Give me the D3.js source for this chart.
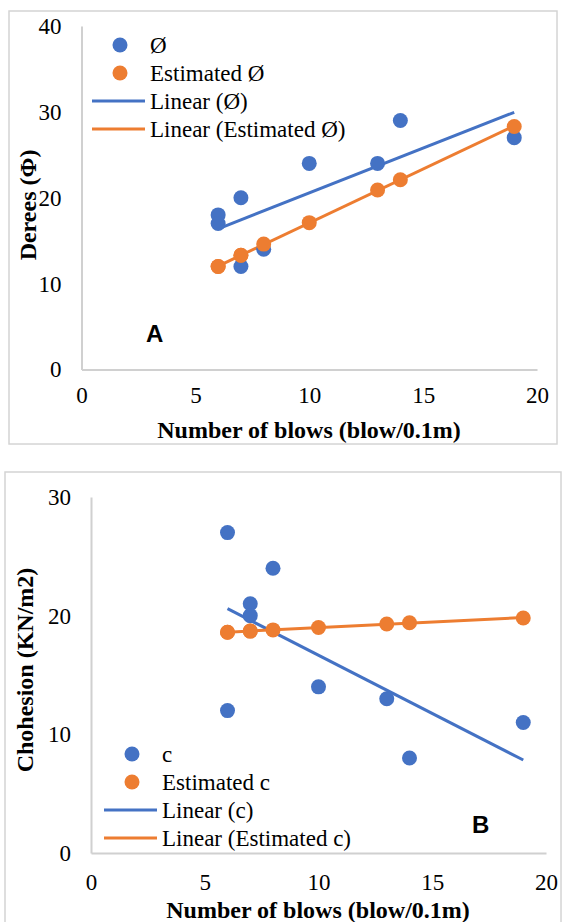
<!DOCTYPE html>
<html>
<head>
<meta charset="utf-8">
<script src="https://cdn.jsdelivr.net/npm/d3@7"></script>
<style>
  body { margin: 0; background: #fff; }
  svg { display: block; }
</style>
</head>
<body>
<script>
// blows per 0.1 m, shared by both panels
const blows = [6, 6, 7, 7, 8, 10, 13, 14, 19];

// panel A: friction angle
const phi = [18, 17, 20, 12, 14, 24, 24, 29, 27];
const phiEst = [12, 12, 13.3, 13.3, 14.6, 17.1, 20.9, 22.1, 28.3];
const phiTicks = [0, 10, 20, 30, 40];

// panel B: cohesion
const cohesion = [27, 12, 21, 20, 24, 14, 13, 8, 11];
const cohesionEst = [18.6, 18.6, 18.7, 18.7, 18.8, 19.0, 19.3, 19.4, 19.8];
const cohesionTicks = [0, 10, 20, 30];

const xTicks = [0, 5, 10, 15, 20];

const blue = "#4472C4";
const orange = "#ED7D31";
const serif = "'Liberation Serif', 'Times New Roman', serif";

let svg = d3.select("body").append("svg")
  .attr("width", 564)
  .attr("height", 922);

// least squares line, like excel's "Linear" trendline
function fit(xs, ys) {
  let mx = d3.mean(xs), my = d3.mean(ys);
  let sxy = d3.sum(xs, (x, i) => (x - mx) * (ys[i] - my));
  let sxx = d3.sum(xs, x => (x - mx) * (x - mx));
  let b = sxy / sxx;
  let a = my - b * mx;
  let x0 = d3.min(xs), x1 = d3.max(xs);
  return [[x0, a + b * x0], [x1, a + b * x1]];
}

function drawPanel(p) {
  let g = svg.append("g");

  g.append("rect")
    .attr("x", p.frame[0]).attr("y", p.frame[1])
    .attr("width", p.frame[2]).attr("height", p.frame[3])
    .attr("fill", "#fff")
    .attr("stroke", "#d4d4d4")
    .attr("stroke-width", 1.5);

  let x = d3.scaleLinear().domain([0, 20]).range(p.xRange);
  let y = d3.scaleLinear().domain(p.yDomain).range(p.yRange);

  let yAxis = g.append("g")
    .attr("transform", `translate(${p.xRange[0]},0)`)
    .call(d3.axisLeft(y).tickValues(p.yTicks).tickSize(0).tickPadding(20));
  let xAxis = g.append("g")
    .attr("transform", `translate(0,${p.yRange[0]})`)
    .call(d3.axisBottom(x).tickValues(xTicks).tickSize(0).tickPadding(p.xPad));

  [xAxis, yAxis].forEach(a => {
    a.select(".domain").attr("stroke", "#d0d0d0").attr("stroke-width", 2);
    a.selectAll("text")
      .attr("fill", "#000")
      .style("font-family", serif)
      .style("font-size", "23px");
  });

  // trendlines
  let line = d3.line().x(d => x(d[0])).y(d => y(d[1]));
  g.append("path")
    .attr("d", line(fit(blows, p.obs)))
    .attr("fill", "none").attr("stroke", blue).attr("stroke-width", 3);
  g.append("path")
    .attr("d", line(fit(blows, p.est)))
    .attr("fill", "none").attr("stroke", orange).attr("stroke-width", 3);

  g.append("g").selectAll("circle")
    .data(p.obs)
    .enter().append("circle")
    .attr("cx", (d, i) => x(blows[i]))
    .attr("cy", d => y(d))
    .attr("r", 7.5)
    .attr("fill", blue);

  g.append("g").selectAll("circle")
    .data(p.est)
    .enter().append("circle")
    .attr("cx", (d, i) => x(blows[i]))
    .attr("cy", d => y(d))
    .attr("r", 7.5)
    .attr("fill", orange);

  // axis titles
  g.append("text")
    .attr("x", p.xTitle[0]).attr("y", p.xTitle[1])
    .attr("text-anchor", "middle")
    .style("font-family", serif).style("font-size", "24px").style("font-weight", "bold")
    .text("Number of blows (blow/0.1m)");
  g.append("text")
    .attr("transform", `translate(${p.yTitle[0]},${p.yTitle[1]}) rotate(-90)`)
    .attr("text-anchor", "middle")
    .style("font-family", serif).style("font-size", "24px").style("font-weight", "bold")
    .text(p.yLabel);

  // legend
  let lg = g.append("g").attr("transform", `translate(${p.legend[0]},${p.legend[1]})`);
  let items = [
    { kind: "dot", color: blue, label: p.names[0] },
    { kind: "dot", color: orange, label: p.names[1] },
    { kind: "line", color: blue, label: "Linear (" + p.names[0] + ")" },
    { kind: "line", color: orange, label: "Linear (" + p.names[1] + ")" },
  ];
  items.forEach((it, i) => {
    let cy = i * 28;
    if (it.kind == "dot") {
      lg.append("circle").attr("cx", -30).attr("cy", cy).attr("r", 7.5).attr("fill", it.color);
    } else {
      lg.append("line")
        .attr("x1", -58).attr("x2", -5).attr("y1", cy).attr("y2", cy)
        .attr("stroke", it.color).attr("stroke-width", 3);
    }
    lg.append("text")
      .attr("x", 0).attr("y", cy + 8)
      .style("font-family", serif).style("font-size", "23px")
      .text(it.label);
  });

  g.append("text")
    .attr("x", p.tag[0]).attr("y", p.tag[1])
    .style("font-family", "'Liberation Sans', Arial, sans-serif")
    .style("font-size", "24px").style("font-weight", "bold")
    .text(p.tagText);
}

drawPanel({
  frame: [9, 11, 548, 433],
  xRange: [81.5, 537],
  yDomain: [0, 40], yRange: [369.5, 26], yTicks: phiTicks,
  xPad: 17,
  obs: phi, est: phiEst,
  names: ["Ø", "Estimated Ø"],
  yLabel: "Derees (Φ)",
  xTitle: [309, 438], yTitle: [36, 205],
  legend: [150, 45],
  tag: [146, 342], tagText: "A"
});

drawPanel({
  frame: [5, 472, 556, 470],
  xRange: [91, 546],
  yDomain: [0, 30], yRange: [853, 497], yTicks: cohesionTicks,
  xPad: 21,
  obs: cohesion, est: cohesionEst,
  names: ["c", "Estimated c"],
  yLabel: "Chohesion (KN/m2)",
  xTitle: [318, 918], yTitle: [33, 670],
  legend: [162, 754],
  tag: [472, 833], tagText: "B"
});
</script>
</body>
</html>
